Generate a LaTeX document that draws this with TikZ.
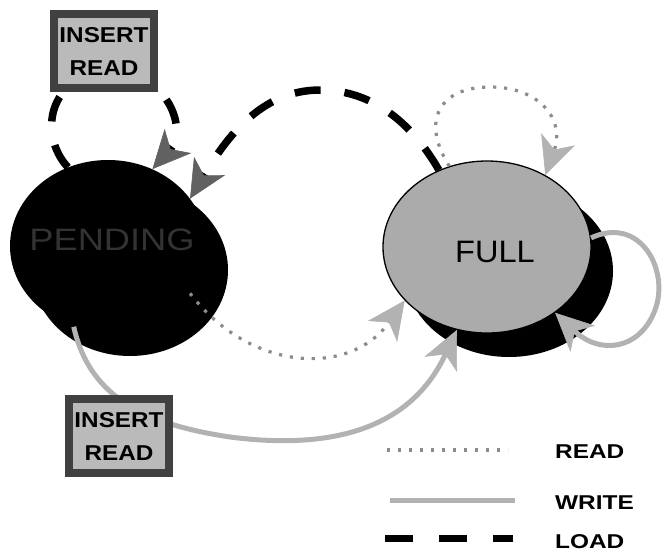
\documentclass[tikz,border=0pt]{standalone}
\usepackage{fontspec}
\setmainfont{Liberation Sans}
\usetikzlibrary{arrows.meta,shapes.geometric}

\tikzset{
  % state ellipses and their drop shadows
  stateshadow/.style={ellipse, fill=black, inner sep=0pt,
    minimum width=#1, minimum height=172pt},
  pendingstate/.style={ellipse, fill=black, inner sep=0pt,
    minimum width=196pt, minimum height=172pt},
  fullstate/.style={ellipse, fill=black!33, draw=black, line width=1.3pt,
    inner sep=0pt, minimum width=208pt, minimum height=172pt},
  statetext/.style={inner sep=0pt, font=\fontsize{31}{31}\selectfont},
  % grey framed label boxes
  labelbox/.style={draw=black!75, line width=8pt, fill=black!27,
    minimum width=100pt, minimum height=74pt, inner sep=0pt, align=center,
    font=\bfseries\fontsize{21.5}{33}\selectfont},
  % connector kinds
  loadline/.style={draw=black, line width=7.5pt, dash pattern=on 26pt off 24pt},
  readline/.style={draw=black!45, line width=3.2pt, dash pattern=on 3.2pt off 7.8pt},
  writeline/.style={draw=black!30, line width=5pt},
  bigtip/.style={-{Stealth[length=38pt,width=36pt,inset=11pt,line width=0.6pt,color=#1]}},
  loadarrow/.style={loadline, bigtip=black!62},
  readarrow/.style={readline, bigtip=black!30},
  writearrow/.style={writeline, bigtip=black!30},
  legendtext/.style={anchor=base west, inner sep=0pt,
    font=\bfseries\fontsize{20}{20}\selectfont}
}

\begin{document}
\begin{tikzpicture}[x=1pt,y=-1pt]
\useasboundingbox (0,0) rectangle (663,552);

% shadows
\node[stateshadow=196pt] (pendingshadow) at (130,270) {};
\node[stateshadow=208pt] (fullshadow) at (509,271) {};

% states
\node[pendingstate] (pending) at (108,246) {};
\node[fullstate] (full) at (487,247) {};
\node[statetext, text=black!80] (pendinglbl) at (112,240) {\scalebox{1.17}[1]{PENDING}};
\node[statetext] (fulllbl) at (495,252) {\scalebox{1.05}[1]{FULL}};

% LOAD: self loop on PENDING
\draw[loadarrow] (pending.117) .. controls (38,135) and (48,75) .. (108,72)
  .. controls (168,70) and (188,130) .. (pending.60);
% LOAD: FULL to PENDING
\draw[loadarrow] (full.122) .. controls (410,120) and (370,90) .. (320,90)
  .. controls (260,90) and (225,140) .. (pending.30);

% READ: self loop on FULL
\draw[readarrow] (full.115) .. controls (420,120) and (440,87) .. (490,87)
  .. controls (540,87) and (565,120) .. (full.51);
% READ: PENDING to FULL
\draw[readarrow] (pending.-30) .. controls (250,372) and (350,377) .. (full.213);

% WRITE: PENDING to FULL
\draw[writearrow] (pending.247) .. controls (90,400) and (150,425) .. (230,437)
  .. controls (330,450) and (410,430) .. (full.250);
% WRITE: self loop on FULL
\draw[writearrow] (full.5) .. controls (640,215) and (670,270) .. (655,310)
  .. controls (640,350) and (600,355) .. (full.-44);

% edge label boxes
\node[labelbox] (loadlbl) at (104,51) {\scalebox{1.13}[1]{INSERT}\\\scalebox{1.13}[1]{READ}};
\node[labelbox] (writelbl) at (119,436) {\scalebox{1.13}[1]{INSERT}\\\scalebox{1.13}[1]{READ}};

% legend
\coordinate (readA) at (387,450);
\coordinate (readB) at (508,450);
\coordinate (writeA) at (390,500);
\coordinate (writeB) at (515,500);
\coordinate (loadA) at (385,538);
\coordinate (loadB) at (513,538);
\draw[readline] (readA) -- (readB);
\draw[writeline] (writeA) -- (writeB);
\draw[loadline, line width=7pt, dash pattern=on 28pt off 26pt] (loadA) -- (loadB);
\node[legendtext] (readkey) at (555,458) {\scalebox{1.22}[1]{READ}};
\node[legendtext] (writekey) at (555,509) {\scalebox{1.22}[1]{WRITE}};
\node[legendtext] (loadkey) at (555,548) {\scalebox{1.22}[1]{LOAD}};
\end{tikzpicture}
\end{document}
